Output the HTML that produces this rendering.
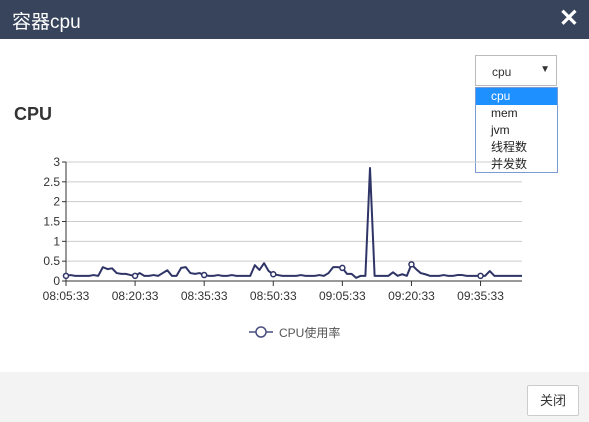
<!DOCTYPE html>
<html><head><meta charset="utf-8"><style>
body{margin:0;width:589px;height:422px;position:relative;overflow:hidden;background:#fff;font-family:"Liberation Sans","Noto Sans CJK SC",sans-serif}
.hdr{position:absolute;left:0;top:0;width:589px;height:39px;background:#37445b;color:#fff}
.hdr .t{position:absolute;left:12px;top:7px;font-size:19px}
.hdr .x{position:absolute;right:10px;top:4px;font-size:24px;font-weight:bold}
.ttl{position:absolute;left:14px;top:104px;font-size:18px;font-weight:bold;color:#333}
.sel{position:absolute;left:475px;top:55px;width:82px;height:31px;border:1px solid #bbb;box-sizing:border-box;font-size:12px;color:#333}
.sel .v{position:absolute;left:16px;top:9px}.sel .a{position:absolute;right:6px;top:8px;font-size:10px}
.list{position:absolute;left:475px;top:87px;width:83px;height:86px;border:1px solid #7a9cd3;box-sizing:border-box;font-size:12px;color:#222}
.list div{height:17px;line-height:17px;padding-left:15px}
.list .on{background:#1e90ff;color:#fff}
.foot{position:absolute;left:0;top:372px;width:589px;height:50px;background:#f3f3f3}
.btn{position:absolute;left:527px;top:385px;width:52px;height:31px;box-sizing:border-box;border:1px solid #ccc;background:#fff;border-radius:2px;font-size:13px;color:#333;text-align:center;line-height:29px}
svg{position:absolute;left:0;top:0}
</style></head><body>
<div class="hdr"><span class="t">容器cpu</span><span class="x">✕</span></div>
<div class="ttl">CPU</div>
<div class="sel"><span class="v">cpu</span><span class="a">▼</span></div>
<div class="list">
<div class="on">cpu</div>
<div>mem</div>
<div>jvm</div>
<div>线程数</div>
<div>并发数</div>
</div>
<svg id="chart" width="589" height="372"></svg>
<div class="foot"></div>
<div class="btn">关闭</div>
<script>
const yTicks=[0,0.5,1,1.5,2,2.5,3];
const yTickLabels=["0","0.5","1","1.5","2","2.5","3"];
const xTickLabels=["08:05:33","08:20:33","08:35:33","08:50:33","09:05:33","09:20:33","09:35:33"];
const xTickIdx=[0,15,30,45,60,75,90];
const cpu=[0.13,0.15,0.13,0.13,0.13,0.13,0.15,0.13,0.35,0.3,0.32,0.2,0.18,0.18,0.15,0.13,0.2,0.13,0.13,0.15,0.13,0.2,0.27,0.13,0.13,0.33,0.35,0.2,0.18,0.2,0.15,0.13,0.13,0.15,0.13,0.13,0.15,0.13,0.13,0.13,0.13,0.4,0.28,0.45,0.25,0.17,0.15,0.13,0.13,0.13,0.13,0.15,0.13,0.13,0.13,0.15,0.13,0.2,0.35,0.35,0.33,0.18,0.18,0.08,0.13,0.13,2.85,0.13,0.13,0.13,0.13,0.22,0.13,0.17,0.13,0.42,0.3,0.2,0.17,0.13,0.13,0.13,0.15,0.13,0.13,0.15,0.15,0.13,0.13,0.13,0.13,0.13,0.25,0.13,0.13,0.13,0.13,0.13,0.13,0.13];
const NS="http://www.w3.org/2000/svg",svg=document.getElementById('chart');
const x0=66,x1=522,y0=281,yTop=162;
const xs=i=>x0+i*(x1-x0)/(cpu.length-1);
const ys=v=>y0-v*(y0-yTop)/3;
function el(t,a){const e=document.createElementNS(NS,t);for(const k in a)e.setAttribute(k,a[k]);svg.appendChild(e);return e;}
yTicks.forEach((v,i)=>{
 const g=el('line',{x1:x0,x2:x1,y1:ys(v),y2:ys(v),stroke:v===0?'#333':'#ccc','stroke-width':1});
 
 
 const tk=el('line',{x1:x0-4,x2:x0,y1:ys(v),y2:ys(v),stroke:'#333'});
 
 
 const t=el('text',{x:x0-6,y:ys(v)+4,'text-anchor':'end','font-size':12,fill:'#333'});t.textContent=yTickLabels[i];
 
 
});
const ax=el('line',{x1:x0,x2:x0,y1:yTop,y2:y0,stroke:'#333'});


xTickIdx.forEach((ix,i)=>{
 const tk=el('line',{x1:xs(ix),x2:xs(ix),y1:y0,y2:y0+5,stroke:'#333'});
 
 
 const t=el('text',{x:xs(ix),y:y0+19,'text-anchor':'middle','font-size':12,fill:'#333'});t.textContent=xTickLabels[i];
 
 
});
const p=el('polyline',{points:cpu.map((v,i)=>xs(i)+','+ys(v)).join(' '),fill:'none',stroke:'#2f3466','stroke-width':2,'stroke-linejoin':'round'});


xTickIdx.forEach(ix=>{
 const c=el('circle',{cx:xs(ix),cy:ys(cpu[ix]),r:2.5,fill:'#fff',stroke:'#2f3466','stroke-width':1.5});
 
 
});
const ll=el('line',{x1:249,x2:273,y1:332,y2:332,stroke:'#4a4e80','stroke-width':1.5});


const lc=el('circle',{cx:261,cy:332,r:5,fill:'#fff',stroke:'#4a4e80','stroke-width':1.5});


const lt=el('text',{x:279,y:337,'font-size':12,fill:'#555'});lt.textContent='CPU使用率';


</script>
</body></html>
